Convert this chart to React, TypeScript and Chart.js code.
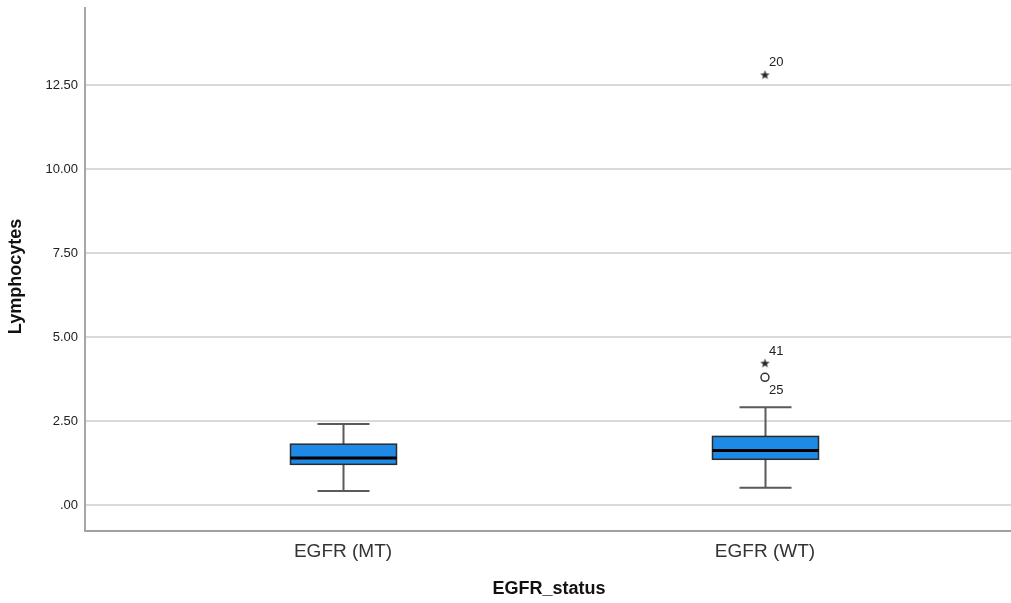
import React, { useEffect, useRef } from 'react';
import { Chart, registerables } from 'chart.js';

Chart.register(...registerables);

// Five-number summaries per EGFR group
const categories = ['EGFR (MT)', 'EGFR (WT)'];
const lowerWhisker = [0.42, 0.51];
const firstQuartile = [1.21, 1.36];
const medians = [1.4, 1.62];
const thirdQuartile = [1.81, 2.04];
const upperWhisker = [2.41, 2.91];

// Outlying cases: group index, value, case number, kind
const outlierGroup = [1, 1, 1];
const outlierValue = [12.8, 4.22, 3.8];
const outlierCase = ['20', '41', '25'];
const outlierKind = ['extreme', 'extreme', 'mild'];

const yTicks = [0, 2.5, 5, 7.5, 10, 12.5];

const FONT = '"Liberation Sans", Arial, Helvetica, sans-serif';
const W = 1011;
const H = 603;

function makeStar(): HTMLCanvasElement {
  const c = document.createElement('canvas');
  c.width = 11;
  c.height = 11;
  const g = c.getContext('2d')!;
  g.fillStyle = '#262626';
  g.beginPath();
  for (let i = 0; i < 10; i++) {
    const r = i % 2 === 0 ? 5 : 2;
    const a = -Math.PI / 2 + (i * Math.PI) / 5;
    const px = 5.5 + r * Math.cos(a);
    const py = 5.8 + r * Math.sin(a);
    if (i === 0) g.moveTo(px, py);
    else g.lineTo(px, py);
  }
  g.closePath();
  g.fill();
  return c;
}

const boxPlugin = {
  id: 'boxes',
  beforeDatasetsDraw(chart: any) {
    const { ctx, scales } = chart;
    const xs = scales.x;
    const ys = scales.y;
    const boxW = 106;
    const capW = 52;
    ctx.save();
    categories.forEach((_, i) => {
      const cx = Math.round(xs.getPixelForValue(i + 1)) + 0.5;
      const yLo = ys.getPixelForValue(lowerWhisker[i]);
      const yQ1 = ys.getPixelForValue(firstQuartile[i]);
      const yMed = ys.getPixelForValue(medians[i]);
      const yQ3 = ys.getPixelForValue(thirdQuartile[i]);
      const yHi = ys.getPixelForValue(upperWhisker[i]);

      // whiskers and caps
      ctx.strokeStyle = '#5a5a5a';
      ctx.lineWidth = 2;
      ctx.beginPath();
      ctx.moveTo(cx, yQ3);
      ctx.lineTo(cx, yHi);
      ctx.moveTo(cx - capW / 2, yHi);
      ctx.lineTo(cx + capW / 2, yHi);
      ctx.moveTo(cx, yQ1);
      ctx.lineTo(cx, yLo);
      ctx.moveTo(cx - capW / 2, yLo);
      ctx.lineTo(cx + capW / 2, yLo);
      ctx.stroke();

      // box
      ctx.fillStyle = '#1e8ae6';
      ctx.fillRect(cx - boxW / 2, yQ3, boxW, yQ1 - yQ3);
      ctx.strokeStyle = '#2b2b2b';
      ctx.lineWidth = 1.5;
      ctx.strokeRect(cx - boxW / 2, yQ3, boxW, yQ1 - yQ3);

      // median
      ctx.strokeStyle = '#000000';
      ctx.lineWidth = 3;
      ctx.beginPath();
      ctx.moveTo(cx - boxW / 2, yMed);
      ctx.lineTo(cx + boxW / 2, yMed);
      ctx.stroke();
    });
    ctx.restore();
  },
  afterDatasetsDraw(chart: any) {
    const { ctx, scales } = chart;
    ctx.save();
    ctx.font = `13px ${FONT}`;
    ctx.fillStyle = '#222222';
    ctx.textAlign = 'left';
    ctx.textBaseline = 'middle';
    outlierValue.forEach((v, k) => {
      const px = scales.x.getPixelForValue(outlierGroup[k] + 1);
      const py = scales.y.getPixelForValue(v);
      const dy = outlierKind[k] === 'mild' ? 13 : -12;
      ctx.fillText(outlierCase[k], px + 4, py + dy);
    });
    ctx.restore();
  },
  afterDraw(chart: any) {
    const { ctx, chartArea } = chart;
    ctx.save();
    ctx.fillStyle = '#111111';
    ctx.font = `bold 18px ${FONT}`;
    ctx.textAlign = 'center';
    ctx.textBaseline = 'middle';
    ctx.fillText('EGFR_status', (chartArea.left + chartArea.right) / 2 + 1, 589);
    ctx.translate(16, (chartArea.top + chartArea.bottom) / 2 + 7);
    ctx.rotate(-Math.PI / 2);
    ctx.fillText('Lymphocytes', 0, 0);
    ctx.restore();
  },
};

export default function App() {
  const ref = useRef<HTMLCanvasElement | null>(null);

  useEffect(() => {
    document.body.style.margin = '0';
    const canvas = ref.current;
    if (!canvas) return;
    const star = makeStar();

    const extremePts: { x: number; y: number }[] = [];
    const mildPts: { x: number; y: number }[] = [];
    outlierValue.forEach((v, k) => {
      const pt = { x: outlierGroup[k] + 1, y: v };
      if (outlierKind[k] === 'mild') mildPts.push(pt);
      else extremePts.push(pt);
    });

    const chart = new Chart(canvas, {
      type: 'scatter',
      data: {
        datasets: [
          {
            label: 'Extreme',
            data: extremePts,
            pointStyle: star as any,
            pointRadius: 5,
          },
          {
            label: 'Outlier',
            data: mildPts,
            pointStyle: 'circle',
            pointRadius: 4,
            borderColor: '#333333',
            borderWidth: 1.5,
            backgroundColor: 'rgba(0,0,0,0)',
          },
        ],
      },
      options: {
        responsive: false,
        animation: false,
        events: [],
        layout: { autoPadding: false, padding: { top: 8, right: 0, bottom: 0, left: 0 } },
        plugins: {
          legend: { display: false },
          tooltip: { enabled: false },
        },
        scales: {
          x: {
            type: 'linear',
            min: 0.3886,
            max: 2.583,
            afterBuildTicks: (s: any) => {
              s.ticks = categories.map((_, i) => ({ value: i + 1 }));
            },
            afterFit: (s: any) => {
              s.height = 72;
              s.paddingLeft = 0;
              s.paddingRight = 0;
            },
            ticks: {
              autoSkip: false,
              maxRotation: 0,
              padding: 9,
              color: '#333333',
              font: { family: FONT, size: 19 },
              callback: (v: any) => categories[Number(v) - 1] ?? '',
            },
            grid: { display: false, drawTicks: false },
            border: { display: true, color: '#a0a0a0', width: 2 },
          },
          y: {
            type: 'linear',
            min: -0.774,
            max: 14.79,
            afterBuildTicks: (s: any) => {
              s.ticks = yTicks.map((v) => ({ value: v }));
            },
            afterFit: (s: any) => {
              s.width = 85;
              s.paddingTop = 0;
              s.paddingBottom = 0;
            },
            ticks: {
              padding: 7,
              color: '#222222',
              font: { family: FONT, size: 13 },
              callback: (v: any) => (Number(v) === 0 ? '.00' : Number(v).toFixed(2)),
            },
            grid: { color: '#d9d9d9', lineWidth: 2, drawTicks: false },
            border: { display: true, color: '#a6a6a6', width: 2 },
          },
        },
      },
      plugins: [boxPlugin],
    });

    return () => chart.destroy();
  }, []);

  return (
    <div style={{ width: W, height: H, background: '#ffffff' }}>
      <canvas ref={ref} width={W} height={H} />
    </div>
  );
}
